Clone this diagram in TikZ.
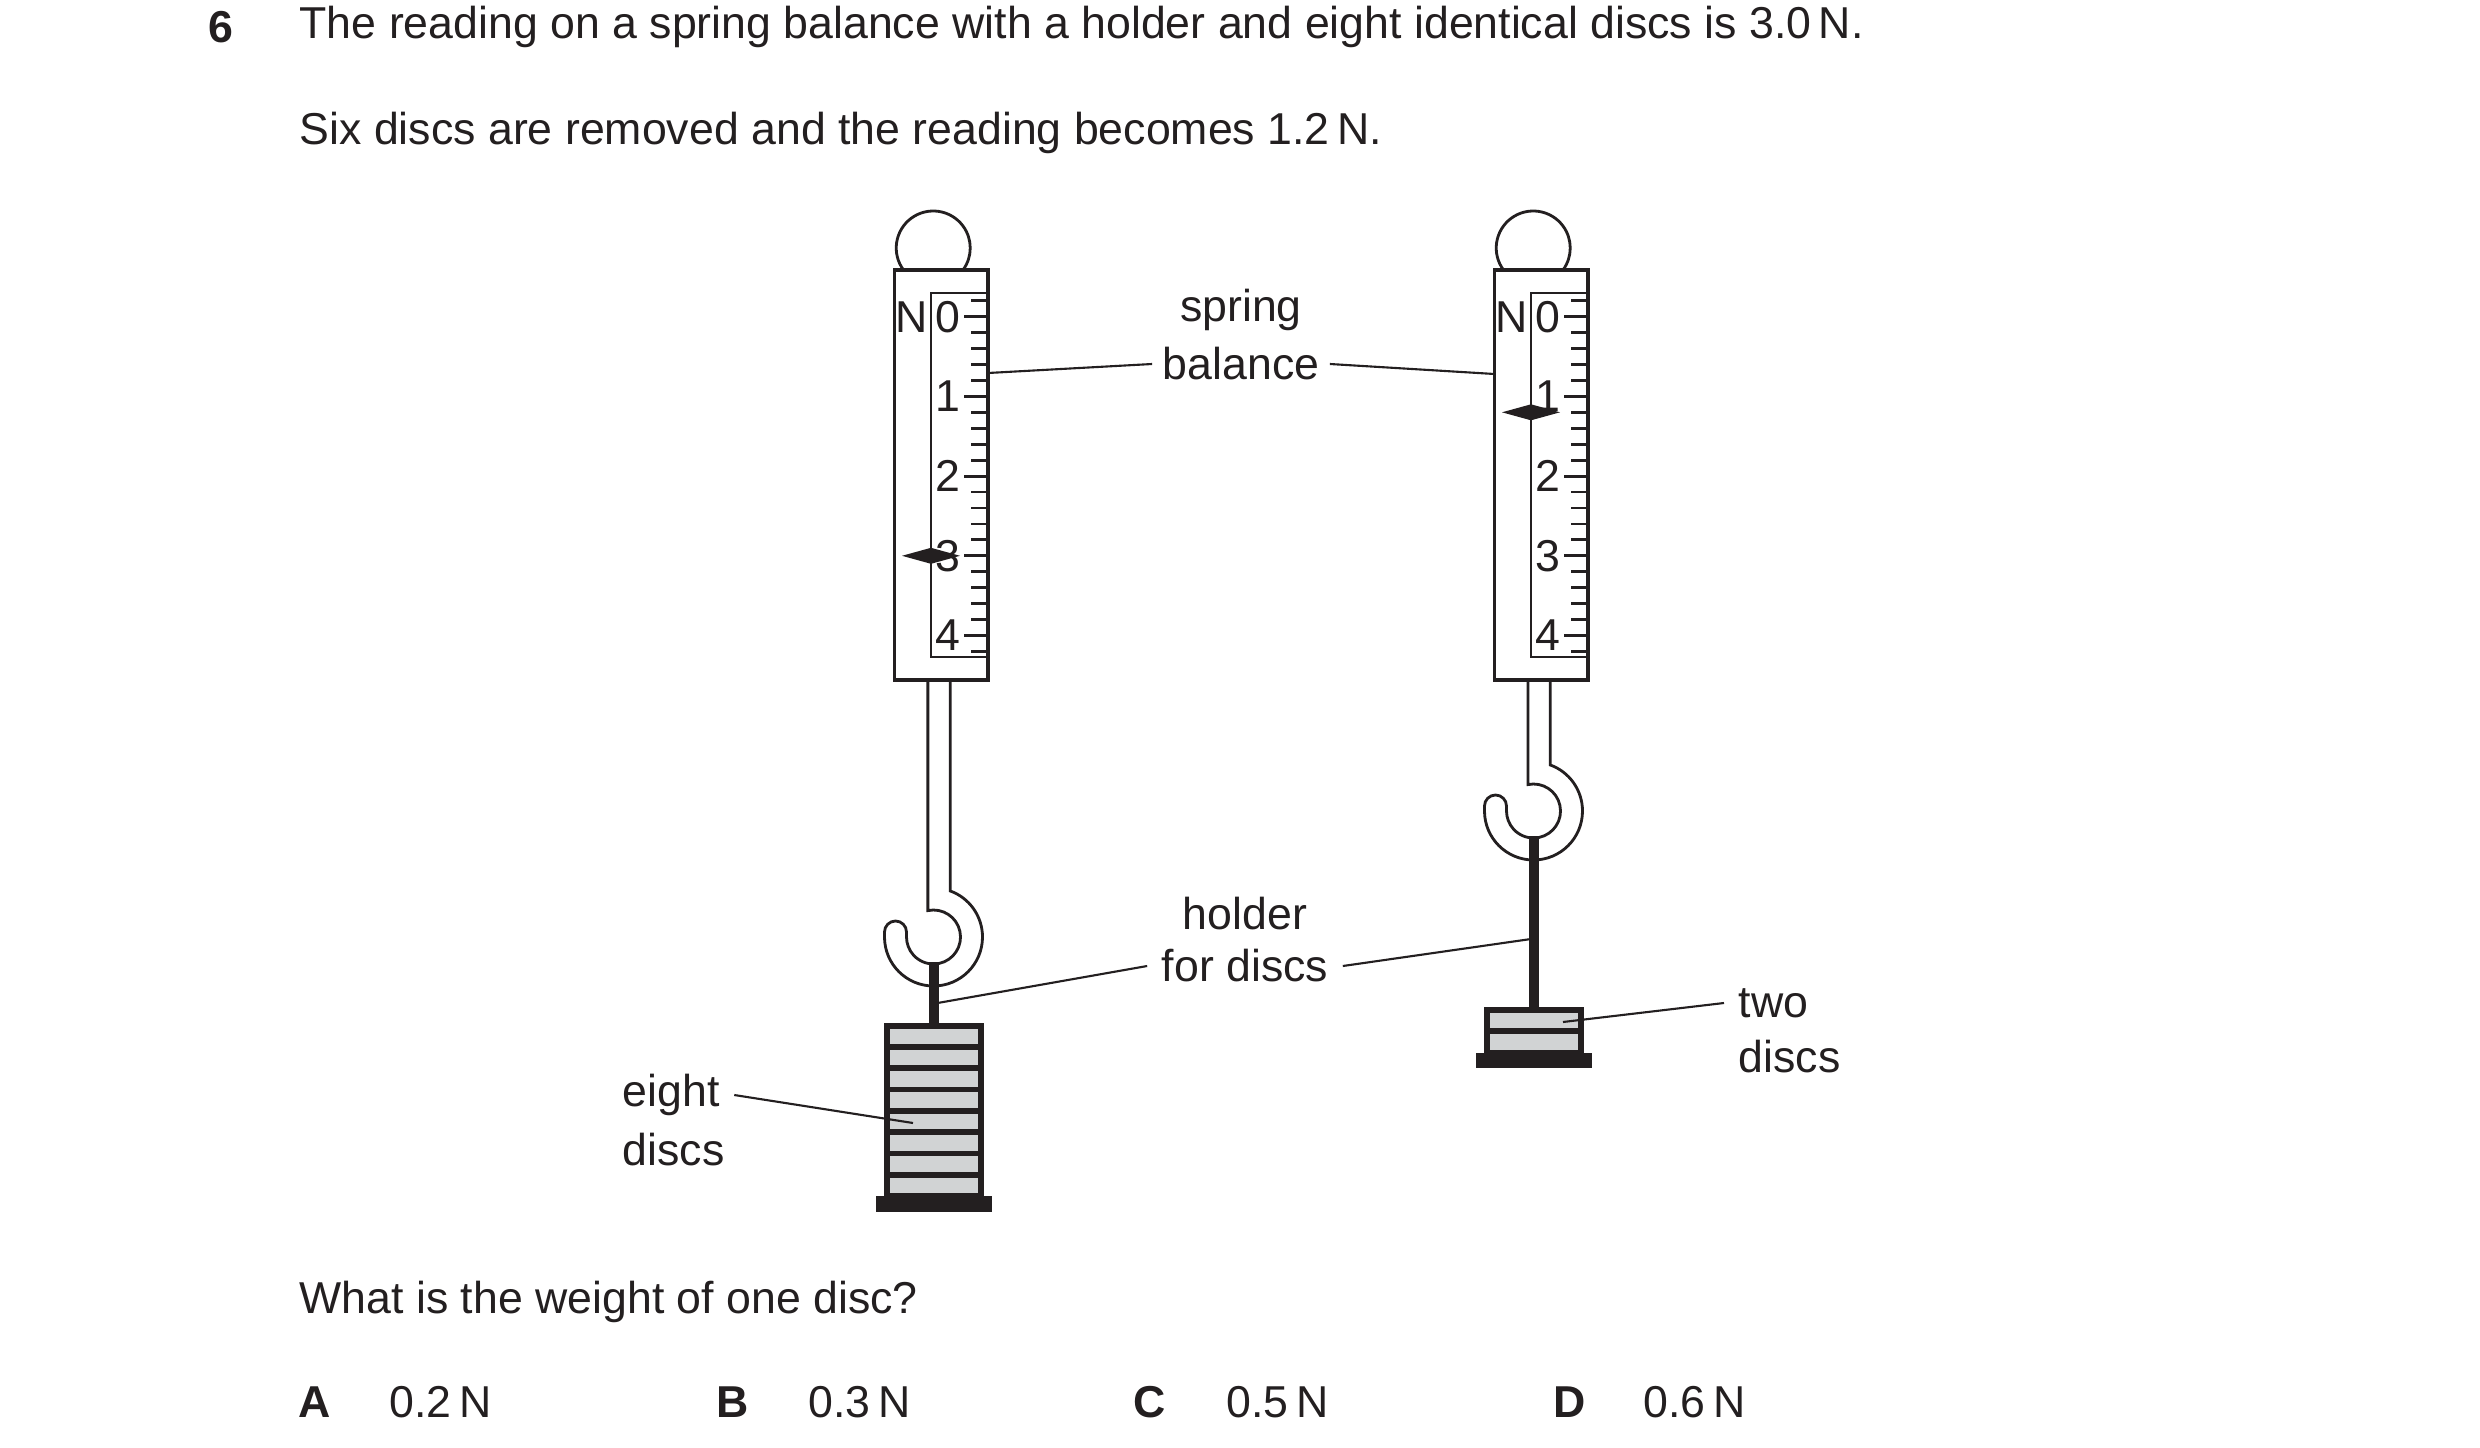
\documentclass[tikz,border=0pt]{standalone}
\usepackage{fontspec}
\setmainfont{Liberation Sans}
\usepackage{tikz}
\usetikzlibrary{calc}
\definecolor{discgray}{RGB}{209,211,212}
\definecolor{ink}{RGB}{35,31,32}
\tikzset{
  label/.style={font=\fontsize{12.7}{15}\selectfont, text=ink, inner sep=0pt},
  scalenum/.style={font=\fontsize{12.7}{15}\selectfont, text=ink, inner sep=0pt},
  leader/.style={draw=ink, line width=0.6pt},
  casing/.style={draw=ink, line width=1.1pt},
  thin/.style={draw=ink, line width=0.8pt},
  disc/.style={fill=discgray, draw=ink, line width=1.6pt},
}

\begin{document}
\begin{tikzpicture}[x=0.01cm, y=-0.01cm]
\useasboundingbox (0,0) rectangle (2480,1448);

% question text
\node[label, font=\fontsize{12.7}{15}\selectfont\bfseries] (qnum) at (221,27) {6};
\node[label, anchor=west] (qline1) at (299,27) {The reading on a spring balance with a holder and eight identical discs is 3.0\,N.};
\node[label, anchor=west] (qline2) at (299,133) {Six discs are removed and the reading becomes 1.2\,N.};
\node[label, anchor=west] (qask) at (299,1302) {What is the weight of one disc?};
\node[label, font=\fontsize{12.7}{15}\selectfont\bfseries] (optA) at (315,1402) {A};
\node[label, anchor=west] (ansA) at (389,1402) {0.2\,N};
\node[label, font=\fontsize{12.7}{15}\selectfont\bfseries] (optB) at (733,1402) {B};
\node[label, anchor=west] (ansB) at (808,1402) {0.3\,N};
\node[label, font=\fontsize{12.7}{15}\selectfont\bfseries] (optC) at (1150,1402) {C};
\node[label, anchor=west] (ansC) at (1226,1402) {0.5\,N};
\node[label, font=\fontsize{12.7}{15}\selectfont\bfseries] (optD) at (1570,1402) {D};
\node[label, anchor=west] (ansD) at (1643,1402) {0.6\,N};

% left balance
\draw[thin] (903.5,270) arc (143.5:396.5:37);
\draw[casing] (894.5,270) rectangle (987.6,680);
\draw[thin] (986.6,293) -- (931,293) -- (931,657) -- (987.6,657);
\foreach \i in {-1,...,21} {
  \draw[thin] (987.6,316.7+\i*15.94) -- ++(-17,0);
}
\foreach \n in {0,...,4} {
  \draw[thin] (987.6,316.7+\n*79.7) -- ++(-24,0);
  \node[scalenum] (lnum\n) at (948,316.7+\n*79.7) {\n};
}
\node[scalenum] (lunit) at (911.5,316.7) {N};
\fill[ink] (902,555.8) -- (931,547.8) -- (960,555.8) -- (931,563.8) -- cycle;
\draw[thin] (927.9,680) -- (927.9,910.6) arc (-102:180:27) -- (906.5,932) arc (360:180:11)
  -- (884.5,937) arc (180:-70:49) -- (950.3,680);
\draw[ink, line width=2.8pt] (933.7,962) -- (933.7,1025.7);
\foreach \k in {0,...,7} {
  \draw[disc] (886.7,1025.7+\k*21.29) rectangle (981.2,1047+\k*21.29);
}
\fill[ink] (875.5,1196) rectangle (991.8,1212);

% right balance
\begin{scope}[xshift=600*0.01cm]
\draw[thin] (903.5,270) arc (143.5:396.5:37);
\draw[casing] (894.5,270) rectangle (987.6,680);
\draw[thin] (986.6,293) -- (931,293) -- (931,657) -- (987.6,657);
\foreach \i in {-1,...,21} {
  \draw[thin] (987.6,316.7+\i*15.94) -- ++(-17,0);
}
\foreach \n in {0,...,4} {
  \draw[thin] (987.6,316.7+\n*79.7) -- ++(-24,0);
  \node[scalenum] (rnum\n) at (948,316.7+\n*79.7) {\n};
}
\node[scalenum] (runit) at (911.5,316.7) {N};
\fill[ink] (902,412.3) -- (931,404.3) -- (960,412.3) -- (931,420.3) -- cycle;
\draw[thin] (927.9,680) -- (927.9,784.6) arc (-102:180:27) -- (906.5,806) arc (360:180:11)
  -- (884.5,811) arc (180:-70:49) -- (950.3,680);
\draw[ink, line width=2.8pt] (933.7,836) -- (933.7,1010);
\foreach \k in {0,1} {
  \draw[disc] (886.7,1010+\k*21.29) rectangle (981.2,1031.3+\k*21.29);
}
\fill[ink] (875.5,1052.5) rectangle (991.8,1068);
\end{scope}

% labels and leaders
\node[label] (springtxt) at (1241,310) {spring};
\node[label] (balancetxt) at (1241,364) {balance};
\coordinate (lcase) at (988,373);
\coordinate (rcase) at (1494.5,374);
\draw[leader] (lcase) -- ($(balancetxt.west)+(-10,0)$);
\draw[leader] ($(balancetxt.east)+(10,0)$) -- (rcase);

\node[label] (holdertxt) at (1245,914) {holder};
\node[label] (fordiscstxt) at (1245,966) {for discs};
\coordinate (lrod) at (937.6,1003);
\coordinate (rrod) at (1531,939);
\draw[leader] (lrod) -- ($(fordiscstxt.west)+(-14,0)$);
\draw[leader] ($(fordiscstxt.east)+(14,0)$) -- (rrod);

\node[label, anchor=west] (eighttxt) at (622,1095) {eight};
\node[label, anchor=west] (eightdiscs) at (622,1150) {discs};
\coordinate (ldisc) at (913,1123);
\draw[leader] ($(eighttxt.east)+(14,0)$) -- (ldisc);

\node[label, anchor=west] (twotxt) at (1738,1003) {two};
\node[label, anchor=west] (twodiscs) at (1738,1057) {discs};
\coordinate (rdisc) at (1563,1022);
\draw[leader] ($(twotxt.west)+(-14,0)$) -- (rdisc);
\end{tikzpicture}
\end{document}
